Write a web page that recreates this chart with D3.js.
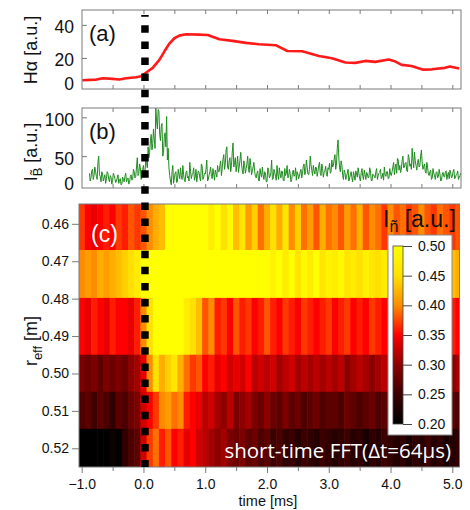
<!DOCTYPE html>
<html><head><meta charset="utf-8">
<script src="https://cdn.jsdelivr.net/npm/d3@7"></script>
<style>body{margin:0;background:#fff} svg{display:block}</style>
</head><body>
<svg id="chart" width="470" height="510" font-family='"Liberation Sans",Arial,sans-serif'></svg>
<script>
// ---------------- data ----------------
const halphaTime = [-0.99,-0.76,-0.66,-0.50,-0.39,-0.28,-0.12,-0.04,0.04,0.15,0.26,0.34,0.42,0.50,0.58,0.69,0.90,1.04,1.23,1.44,1.66,1.87,2.14,2.33,2.57,2.84,3.05,3.27,3.43,3.59,3.75,3.97,4.08,4.18,4.34,4.53,4.67,4.88,4.96,5.11];
const halphaValue = [6.5,6.9,7.7,7.3,6.9,7.7,8.3,8.9,11,14,19,24,28.7,31.9,33.5,34.3,34.1,33.9,31.3,30.3,29.1,28.3,27.7,24.2,24,21.2,19.8,17.2,17,18.2,17.6,19,17.8,15.8,15.1,12.9,13.1,14,14.8,13.6];

// I~B samples: ibValue at ibStart + i*ibStep, ibMid half a step later
const ibStart = -0.875, ibStep = 0.025;
const ibValue = [
28,22,33,25,30,20,50,
24,30,18,26,21,28,17,23,19,25,16,22,
15,21,14,19,24,17,22,16,26,20,30,24,
48,28,35,22,38,30,42,
62,55,78,66,72,
112,85,108,
70,92,55,80,101,60,
25,13,38,
22,30,18,27,35,20,26,17,31,24,42,21,28,19,33,25,29,18,37,23,27,45,20,30,24,34,19,28,38,
30,44,35,52,40,62,33,48,38,67,42,30,50,36,55,32,44,28,40,33,47,26,36,30,
22,31,18,27,36,20,28,17,33,24,45,21,29,19,26,35,22,30,18,25,38,23,28,20,32,26,19,27,
24,33,28,40,30,36,26,50,32,38,27,35,30,42,25,34,29,37,24,33,28,45,
38,52,40,71,35,44,
25,32,20,28,18,26,22,30,19,27,35,21,29,24,32,20,27,23,31,18,26,22,34,25,29,21,28,36,24,30,22,27,
30,42,35,28,45,38,33,50,36,42,30,48,40,60,35,44,32,46,38,58,33,40,28,36,
25,32,22,28,20,30,24,27,19,29,23,31,26,21,28,24,33,22,27,20,25];
const ibMid = [
18,31,20,36,24,42,26,
17,27,22,15,30,20,25,14,28,21,18,26,
19,13,23,17,28,20,14,24,19,33,22,36,
25,40,20,33,26,45,35,
48,70,58,85,60,
95,110,78,
88,50,75,62,45,35,
18,30,15,
28,16,33,21,25,38,19,29,22,18,30,26,35,23,17,31,22,40,20,28,33,18,26,36,21,27,32,23,30,
38,25,46,33,58,36,44,30,55,36,48,39,29,45,40,27,38,34,50,29,38,31,42,24,
28,19,34,23,26,30,17,35,22,29,20,33,24,38,20,27,31,19,34,28,22,33,17,29,24,35,30,21,
30,22,37,26,45,27,33,39,25,31,36,24,38,28,40,23,31,26,35,41,30,36,
46,33,60,48,30,38,
20,29,24,33,22,30,17,25,31,23,28,18,34,20,26,29,22,35,19,27,24,30,20,28,33,23,19,26,30,21,34,25,
36,26,40,47,32,29,44,35,41,31,52,37,33,45,55,38,42,36,50,41,37,30,42,27,
30,20,34,25,29,22,33,18,27,24,30,20,29,32,22,30,21,26,31,23,28];

const heatStart = -1.05, heatStep = 0.1;
const rowEdges = [0.4547, 0.4670, 0.4798, 0.4950, 0.5049, 0.5148, 0.5250];
const row046 = [0.37,0.35,0.34,0.35,0.36,0.35,0.37,0.36,0.38,0.37, 0.38,0.40,0.42,0.43, 0.52,0.55,0.53,0.55,0.52,0.54, 0.50,0.47,0.52,0.45,0.49,0.43, 0.46,0.41,0.44,0.39,0.42, 0.45,0.42,0.46,0.40,0.44, 0.39,0.41,0.38,0.42,0.39, 0.40,0.38,0.41,0.39,0.42,0.38,0.40,0.39,0.37,0.40, 0.38,0.39,0.37,0.38,0.40,0.38,0.37,0.39,0.38,0.37,0.38];
const row047 = [0.40,0.41,0.40,0.42,0.41,0.42,0.43,0.44,0.45,0.47, 0.52,0.55,0.55,0.55,0.55,0.55,0.55,0.55,0.55,0.55, 0.55,0.55,0.54,0.55,0.55,0.53,0.55,0.52,0.55,0.53,0.51, 0.48,0.50,0.47,0.51,0.46,0.49,0.47,0.50,0.46,0.48, 0.47,0.49,0.46,0.47,0.45,0.48,0.46,0.45,0.47,0.45, 0.46,0.44,0.45,0.46,0.44,0.45,0.44,0.45,0.44,0.43,0.42];
const row048 = [0.35,0.34,0.36,0.35,0.34,0.36,0.35,0.35,0.34,0.36, 0.40,0.45, 0.50,0.52,0.53,0.51,0.52, 0.47,0.45,0.43, 0.38,0.40,0.36,0.37,0.35,0.38,0.36,0.37,0.35,0.36,0.38, 0.36,0.35,0.37,0.36,0.35,0.37,0.36,0.35,0.36,0.37, 0.35,0.36,0.37,0.35,0.36,0.35,0.37,0.36,0.35,0.36, 0.36,0.35,0.36,0.37,0.35,0.36,0.35,0.36,0.35,0.36,0.35];
const row050 = [0.29,0.28,0.29,0.27,0.29,0.28,0.29,0.28,0.30,0.31, 0.34,0.40, 0.45,0.42,0.44,0.46,0.42, 0.39,0.37,0.38, 0.35,0.36,0.34,0.35,0.33,0.34,0.33,0.35,0.32,0.33,0.32, 0.33,0.31,0.32,0.33,0.31,0.32,0.31,0.32,0.31,0.32, 0.31,0.32,0.30,0.31,0.32,0.31,0.30,0.31,0.32,0.31, 0.31,0.30,0.31,0.32,0.31,0.30,0.31,0.30,0.31,0.30,0.31];
const row051 = [0.26,0.27,0.25,0.27,0.26,0.24,0.27,0.26,0.28,0.29, 0.33,0.35,0.37, 0.40,0.41,0.39,0.40, 0.36,0.35,0.34, 0.32,0.33,0.31,0.30,0.32,0.29,0.30,0.31,0.29,0.28,0.30, 0.28,0.27,0.29,0.27,0.28,0.26,0.27,0.28,0.26,0.27, 0.27,0.26,0.28,0.27,0.26,0.27,0.28,0.26,0.27,0.26, 0.27,0.26,0.27,0.28,0.26,0.27,0.26,0.27,0.28,0.27,0.26];
const row052 = [0.20,0.19,0.20,0.19,0.20,0.21,0.20,0.24,0.26,0.27, 0.33,0.37,0.39,0.36,0.38, 0.35,0.36,0.34,0.35,0.33, 0.32,0.31,0.30,0.31,0.29,0.28,0.29,0.27,0.28,0.26,0.27, 0.25,0.26,0.24,0.25,0.23,0.25,0.24,0.23,0.25,0.24, 0.23,0.24,0.25,0.23,0.24,0.22,0.24,0.23,0.25,0.24, 0.23,0.24,0.22,0.24,0.23,0.25,0.23,0.24,0.22,0.23,0.24];
const heatRows = [row046, row047, row048, row050, row051, row052];

const timeTicks = [-1, 0, 1, 2, 3, 4, 5];
const timeMinorTicks = [-0.5, 0.5, 1.5, 2.5, 3.5, 4.5];
const frameTicks = [-0.5, 0, 0.5, 1, 1.5, 2, 2.5, 3, 3.5, 4, 4.5, 5];
const rTicks = [0.46, 0.47, 0.48, 0.49, 0.50, 0.51, 0.52];
const aTicks = [0, 20, 40];
const bTicks = [0, 50, 100];
const cbTicks = [0.20, 0.25, 0.30, 0.35, 0.40, 0.45, 0.50];
const cmapStops = [0.20, 0.25, 0.30, 0.35, 0.40, 0.45, 0.50];
const cmapColors = ["#000000", "#3c0000", "#8c0000", "#ff0000", "#ff8c00", "#ffe000", "#ffff00"];

// ---------------- layout ----------------
const svg = d3.select("#chart");
const FA = {l: 82, r: 461, t: 10, b: 89};
const FB = {l: 82, r: 461, t: 108, b: 188};
const FC = {l: 79, r: 459.5, t: 204, b: 467};
const frameColor = "#7a7a7a";

const x = d3.scaleLinear([-1, 5], [81.7, 452.3]);
const ya = d3.scaleLinear([1.2, 49], [FA.b, FA.t]);
const yb = d3.scaleLinear([9, 112], [FB.b, FB.t]);
const yc = d3.scaleLinear([0.4547, 0.525], [FC.t, FC.b]);
const color = d3.scaleLinear(cmapStops, cmapColors).clamp(true);

const defs = svg.append("defs");
function clip(id, F) {
  defs.append("clipPath").attr("id", id).append("rect")
    .attr("x", F.l).attr("y", F.t).attr("width", F.r - F.l).attr("height", F.b - F.t);
}
clip("ca", FA); clip("cb", FB); clip("cc", FC);

function frame(F) {
  svg.append("rect").attr("x", F.l).attr("y", F.t).attr("width", F.r - F.l).attr("height", F.b - F.t)
    .attr("fill", "none").attr("stroke", frameColor).attr("stroke-width", 1);
}
function styleAxis(g, fs) {
  g.attr("font-family", null);
  g.select(".domain").remove();
  g.selectAll("line").attr("stroke", frameColor);
  g.selectAll("text").attr("font-size", fs).attr("fill", "#111");
}

// ---------------- panel (a) ----------------
svg.append("path").datum(halphaValue.map((v, i) => [halphaTime[i], v]))
  .attr("clip-path", "url(#ca)")
  .attr("d", d3.line().x(d => x(d[0])).y(d => ya(d[1])))
  .attr("fill", "none").attr("stroke", "#ff1a1a").attr("stroke-width", 2.6).attr("stroke-linejoin", "round");

function yAxisInside(F, scale, ticks, offsets) {
  const g = svg.append("g").attr("transform", `translate(${F.l},0)`)
    .call(d3.axisLeft(scale).tickValues(ticks).tickSize(-5).tickPadding(8));
  styleAxis(g, "17.5px");
  g.selectAll(".tick").each(function(d) {
    const t = d3.select(this);
    const yy = scale(d);
    if (yy > F.b || yy < F.t) t.select("line").remove();
    t.select("text").attr("dy", null).attr("y", offsets(d, yy));
  });
}
yAxisInside(FA, ya, aTicks, (d, yy) => Math.min(yy + 8, FA.b + 0.5) - yy);
yAxisInside(FB, yb, bTicks, (d, yy) => Math.min(yy + 8, FB.b + 1) - yy);

function frameXTicks(F) {
  const gb = svg.append("g").attr("transform", `translate(0,${F.b})`)
    .call(d3.axisTop(x).tickValues(frameTicks).tickSize(4).tickFormat(""));
  styleAxis(gb, "1px");
  const gt = svg.append("g").attr("transform", `translate(0,${F.t})`)
    .call(d3.axisBottom(x).tickValues(frameTicks).tickSize(4).tickFormat(""));
  styleAxis(gt, "1px");
}
frameXTicks(FA); frameXTicks(FB);
frame(FA);

svg.append("text").attr("x", 89).attr("y", 41).attr("font-size", "22px").attr("fill", "#111").text("(a)");
svg.append("text").attr("transform", "translate(37,50) rotate(-90)").attr("text-anchor", "middle")
  .attr("font-size", "18px").attr("fill", "#111").text("Hα [a.u.]");

// ---------------- panel (b) ----------------
const ibSeries = [];
ibValue.forEach((v, i) => {
  ibSeries.push([ibStart + i * ibStep, v]);
  ibSeries.push([ibStart + (i + 0.5) * ibStep, ibMid[i]]);
});
svg.append("path").datum(ibSeries)
  .attr("clip-path", "url(#cb)")
  .attr("d", d3.line().x(d => x(d[0])).y(d => yb(d[1])))
  .attr("fill", "none").attr("stroke", "#1f8c1f").attr("stroke-width", 1).attr("stroke-linejoin", "round");
frame(FB);
svg.append("text").attr("x", 89).attr("y", 139).attr("font-size", "22px").attr("fill", "#111").text("(b)");
const lb = svg.append("text").attr("transform", "translate(37,152) rotate(-90)").attr("text-anchor", "middle")
  .attr("font-size", "18px").attr("fill", "#111");
lb.append("tspan").text("I");
lb.append("tspan").attr("font-size", "13px").attr("dy", 5).text("B\u0303");
lb.append("tspan").attr("dy", -5).text(" [a.u.]");

// ---------------- panel (c) ----------------
const gc = svg.append("g").attr("clip-path", "url(#cc)");
heatRows.forEach((row, r) => {
  const y0 = yc(rowEdges[r]), y1 = yc(rowEdges[r + 1]);
  gc.selectAll(null).data(row).join("rect")
    .attr("x", (d, i) => x(heatStart + i * heatStep))
    .attr("width", (d, i) => x(heatStart + (i + 1) * heatStep) - x(heatStart + i * heatStep) + 0.6)
    .attr("y", y0).attr("height", y1 - y0 + 0.5)
    .attr("fill", d => color(d));
});
frame(FC);

const gcy = svg.append("g").attr("transform", `translate(${FC.l},0)`)
  .call(d3.axisLeft(yc).tickValues(rTicks).tickSize(7).tickPadding(3).tickFormat(d3.format(".2f")));
styleAxis(gcy, "14px");
const gcx = svg.append("g").attr("transform", `translate(0,${FC.b})`)
  .call(d3.axisBottom(x).tickValues(timeTicks).tickSize(6).tickPadding(6).tickFormat(d3.format(".1f")));
styleAxis(gcx, "14px");
const gcx2 = svg.append("g").attr("transform", `translate(0,${FC.b})`)
  .call(d3.axisBottom(x).tickValues(timeMinorTicks).tickSize(4).tickFormat(""));
styleAxis(gcx2, "1px");

svg.append("text").attr("x", 268).attr("y", 506).attr("text-anchor", "middle").attr("font-size", "14.5px").attr("fill", "#111").text("time [ms]");
const lc = svg.append("text").attr("transform", "translate(37,341) rotate(-90)").attr("text-anchor", "middle")
  .attr("font-size", "18px").attr("fill", "#111");
lc.append("tspan").text("r");
lc.append("tspan").attr("font-size", "13px").attr("dy", 5).text("eff");
lc.append("tspan").attr("dy", -5).text(" [m]");

svg.append("text").attr("x", 91).attr("y", 242).attr("font-size", "23px").attr("fill", "#fff").text("(c)");
svg.append("text").attr("x", 451).attr("y", 458).attr("text-anchor", "end")
  .attr("font-family", '"Open Sans","Noto Sans",sans-serif').attr("font-size", "20.5px").attr("fill", "#fff")
  .text("short-time FFT(\u0394t=64\u03bcs)");

// colorbar
const cbY = d3.scaleLinear([0.20, 0.50], [424, 246]);
svg.append("rect").attr("x", 388).attr("y", 235).attr("width", 64).attr("height", 200)
  .attr("fill", "#fff").attr("stroke", "#8a8a8a").attr("stroke-width", 1);
const grad = defs.append("linearGradient").attr("id", "cbgrad").attr("x1", 0).attr("y1", 1).attr("x2", 0).attr("y2", 0);
d3.range(0, 31).forEach(k => {
  const v = 0.20 + k * 0.01;
  grad.append("stop").attr("offset", (v - 0.20) / 0.30).attr("stop-color", color(v));
});
svg.append("rect").attr("x", 393).attr("y", cbY(0.50)).attr("width", 10).attr("height", cbY(0.20) - cbY(0.50))
  .attr("fill", "url(#cbgrad)").attr("stroke", "#444").attr("stroke-width", 0.8);
const gcb = svg.append("g").attr("transform", "translate(403,0)")
  .call(d3.axisRight(cbY).tickValues(cbTicks).tickSize(9).tickPadding(6).tickFormat(d3.format(".2f")));
styleAxis(gcb, "14px");
gcb.selectAll("line").attr("stroke", "#444");

const ct = svg.append("text").attr("x", 383).attr("y", 227).attr("font-size", "23px").attr("fill", "#111");
ct.append("tspan").text("I");
ct.append("tspan").attr("font-size", "16px").attr("dy", 5).text("ñ");
ct.append("tspan").attr("dy", -5).text(" [a.u.]");

// dashed line at t = 0
svg.append("line").attr("x1", x(0) + 1.5).attr("x2", x(0) + 1.5).attr("y1", 15).attr("y2", 467)
  .attr("stroke", "#000").attr("stroke-width", 7.5)
  .attr("stroke-dasharray", "7.5 8.6").attr("stroke-dashoffset", 5.8);
</script>
</body></html>
